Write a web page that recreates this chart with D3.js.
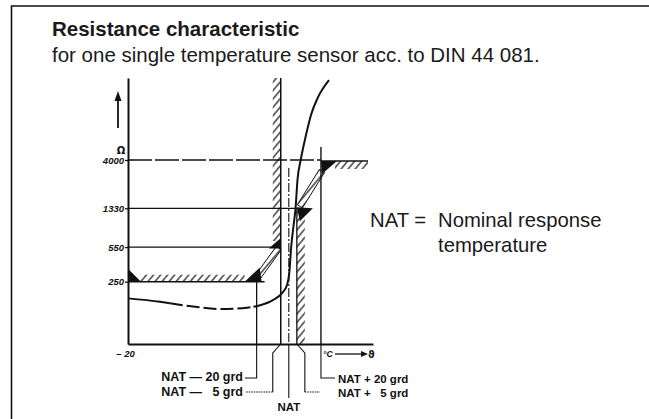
<!DOCTYPE html>
<html><head><meta charset="utf-8">
<script src="https://cdn.jsdelivr.net/npm/d3@7"></script>
<style>body{margin:0;background:#fff}svg{display:block}</style>
</head><body>
<script>
// ---------- data ----------
const titleText = "Resistance characteristic";
const subtitleText = "for one single temperature sensor acc. to DIN 44 081.";
const yTicks = [250, 550, 1330, 4000];
const yTickLabels = ["250", "550", "1330", "4000"];
const yUnit = "Ω";
const xStart = -20;
const xStartLabel = "– 20";
const xUnit = "°C";
const xSymbol = "ϑ";
const NAT = 80; // drawing position of the nominal response temperature (°C, estimated)
const natOffsets = [-20, -5, 0, 5, 20];
const natLabels = ["NAT — 20 grd", "NAT — \u20075 grd", "NAT", "NAT + 20 grd", "NAT + \u20075 grd"];
const limitOhm = [250, 550, 1330, 4000];      // DIN limits
const limitOffset = [-20, -5, 5, 20];         // at NAT + offset
const curveTemp = [-20, 0, 6, 20.5, 37.3, 54.1, 58, 62.2, 70.3, 75.8, 78.9, 80.3, 81.5, 83.0, 84.2, 85.4, 87.4, 90.7, 93.8, 98.2, 105.0];
const curveOhm  = [171, 158, 153, 142, 134, 138, 141, 146, 165, 193, 232, 305, 555, 910, 1330, 2535, 4000, 7060, 11140, 16780, 24720];
const dashedFrom = 6, dashedTo = 58;
const legendKey = "NAT =";
const legendLines = ["Nominal response", "temperature"];

// ---------- drawing ----------
const W = 649, H = 419;
const svg = d3.select("body").append("svg").attr("width", W).attr("height", H)
  .style("background", "#fff");

const defs = svg.append("defs");
const pat = defs.append("pattern").attr("id", "hatch").attr("patternUnits", "userSpaceOnUse")
  .attr("width", 5.4).attr("height", 10).attr("patternTransform", "rotate(40)");
pat.append("line").attr("x1", 2.7).attr("y1", 0).attr("x2", 2.7).attr("y2", 10)
  .attr("stroke", "#111").attr("stroke-width", 1.2);

// frame
svg.append("path").attr("d", "M11.5,419V6H649").attr("fill", "none").attr("stroke", "#111").attr("stroke-width", 1.6);

const font = "'Liberation Sans', Arial, Helvetica, sans-serif";
svg.append("text").attr("x", 52).attr("y", 36).text(titleText)
  .attr("font-family", font).attr("font-weight", "bold").attr("font-size", 20.5).attr("fill", "#1a1a1a");
svg.append("text").attr("x", 52).attr("y", 61.7).text(subtitleText)
  .attr("font-family", font).attr("font-size", 20.5).attr("fill", "#1a1a1a");

// scales
const x = d3.scaleLinear().domain([xStart, NAT]).range([128, 288.8]);
const y = d3.scaleLog().domain([limitOhm[0], limitOhm[3]]).range([281.7, 160]);
const yBottom = 344, yTop = 78, xRight = 373;
const x0 = x(xStart);
const xN = d => x(NAT + d);

// y axis
const yAx = y.copy().domain([y.invert(yBottom), y.invert(yTop)]).range([yBottom, yTop]);
const gy = svg.append("g").attr("transform", `translate(${x0},0)`)
  .call(d3.axisLeft(yAx).tickValues(yTicks).tickSizeInner(3).tickSizeOuter(0).tickPadding(1)
    .tickFormat((d, i) => yTickLabels[i]));
gy.select(".domain").attr("stroke", "#111").attr("stroke-width", 2);
gy.selectAll(".tick line").attr("stroke", "#111").attr("stroke-width", 1.3);
gy.selectAll(".tick text").attr("font-family", font).attr("font-style", "italic")
  .attr("font-weight", "bold").attr("font-size", 9.5).attr("fill", "#111");

// x axis
const xAx = x.copy().domain([xStart, x.invert(xRight)]).range([x0, xRight]);
const gx = svg.append("g").attr("transform", `translate(0,${yBottom})`)
  .call(d3.axisBottom(xAx).tickValues([xStart]).tickSize(0).tickPadding(6).tickFormat(() => xStartLabel));
gx.select(".domain").attr("stroke", "#111").attr("stroke-width", 2);
gx.selectAll(".tick text").attr("font-family", font).attr("font-style", "italic")
  .attr("font-weight", "bold").attr("font-size", 9.5).attr("fill", "#111").attr("dx", -3);

// axis arrows & units
svg.append("line").attr("x1", 118).attr("x2", 118).attr("y1", 128).attr("y2", 98).attr("stroke", "#111").attr("stroke-width", 1.8);
svg.append("path").attr("d", "M114.5,101L121.5,101L118,91Z").attr("fill", "#111");
svg.append("text").attr("x", 121).attr("y", 154).attr("text-anchor", "middle").text(yUnit)
  .attr("font-family", "DejaVu Sans").attr("font-weight", "bold").attr("font-size", 10).attr("fill", "#111");
svg.append("text").attr("x", 323).attr("y", 357).text(xUnit)
  .attr("font-family", font).attr("font-weight", "bold").attr("font-style", "italic").attr("font-size", 8.5).attr("fill", "#111");
svg.append("line").attr("x1", 335).attr("x2", 362).attr("y1", 354).attr("y2", 354).attr("stroke", "#111").attr("stroke-width", 1.3);
svg.append("path").attr("d", "M361,351L368,354L361,357Z").attr("fill", "#111");
svg.append("text").attr("x", 368).attr("y", 358).text(xSymbol)
  .attr("font-family", "DejaVu Sans").attr("font-weight", "bold").attr("font-size", 10).attr("fill", "#111");

const ln = (x1, y1, x2, y2, w, dash) => svg.append("line").attr("x1", x1).attr("y1", y1).attr("x2", x2).attr("y2", y2)
  .attr("stroke", "#111").attr("stroke-width", w || 1.3).attr("stroke-dasharray", dash || null);

// hatched bands
const hrect = (x1, y1, x2, y2) => svg.append("rect").attr("x", x1).attr("y", y1).attr("width", x2 - x1).attr("height", y2 - y1).attr("fill", "url(#hatch)");
hrect(x0 + 12, y(limitOhm[0]) - 7, xN(limitOffset[0]) - 12, y(limitOhm[0]));       // 250 band
hrect(xN(limitOffset[1]) - 8, yTop, xN(limitOffset[1]), y(limitOhm[1]) - 6);       // left vertical band
hrect(xN(limitOffset[2]), y(limitOhm[2]) + 2, xN(limitOffset[2]) + 8, yBottom);     // right vertical band
hrect(xN(limitOffset[3]) + 14, y(limitOhm[3]) + 1, 368, y(limitOhm[3]) + 9);        // 4000 band

// reference lines
ln(x0, y(limitOhm[3]), xN(limitOffset[3]), y(limitOhm[3]), 1.3, "24,3");
ln(xN(limitOffset[3]), y(limitOhm[3]) + 1, 368, y(limitOhm[3]) + 1, 1.5);
ln(x0, y(limitOhm[2]), xN(limitOffset[2]) + 2, y(limitOhm[2]), 1.3);
ln(x0, y(limitOhm[1]), xN(limitOffset[1]), y(limitOhm[1]), 1.3);
ln(x0, y(limitOhm[0]), xN(limitOffset[0]) + 8, y(limitOhm[0]), 1.5);

// vertical NAT lines
ln(xN(-5), yTop, xN(-5), yBottom, 1.5);
ln(xN(5), y(limitOhm[2]) + 1, xN(5), yBottom, 1.3);
ln(xN(0), 168, xN(0), yBottom, 1.1, "9,2,2,2");
ln(xN(20), 147, xN(20), yBottom, 1.4);
ln(xN(-20), y(limitOhm[0]), xN(-20), yBottom, 1.3);

// diagonal hatched strips (switching transitions)
const strip = (ax, ay, bx, by, w) => {
  const dx = bx - ax, dy = by - ay, L = Math.hypot(dx, dy);
  const px = -dy / L * w / 2, py = dx / L * w / 2;
  const pts = [[ax + px, ay + py], [bx + px, by + py], [bx - px, by - py], [ax - px, ay - py]];
  svg.append("path").attr("d", "M" + pts.join("L") + "Z").attr("fill", "url(#hatch)")
    .attr("stroke", "#111").attr("stroke-width", 1);
};
strip(xN(-20) + 0, y(limitOhm[0]) - 3, xN(-5) - 2, y(limitOhm[1]) + 1, 6);
strip(xN(20) + 1, y(limitOhm[3]) + 11, xN(5) + 3, y(limitOhm[2]) - 2, 6);

// black arrow heads
const tri = pts => svg.append("path").attr("d", "M" + pts.join("L") + "Z").attr("fill", "#111");
tri([[x0, y(limitOhm[0]) - 13], [x0, y(limitOhm[0])], [x0 + 13, y(limitOhm[0])]]);
tri([[xN(-20) - 12, y(limitOhm[0])], [xN(-20) + 5, y(limitOhm[0])], [xN(-20) + 3, y(limitOhm[0]) - 14]]);
tri([[xN(-5) - 12, y(limitOhm[1]) + 1.5], [xN(-5), y(limitOhm[1]) - 9], [xN(-5), y(limitOhm[1]) + 1.5]]);
tri([[xN(5), y(limitOhm[2]) - 1], [xN(5) + 16, y(limitOhm[2])], [xN(5) + 3, y(limitOhm[2]) + 13]]);
tri([[xN(20), y(limitOhm[3]) + 1], [xN(20) + 16, y(limitOhm[3]) + 1], [xN(20) + 1, y(limitOhm[3]) + 14]]);

// resistance curve
const pts = curveTemp.map((t, i) => ({t, r: curveOhm[i]}));
const line = d3.line().x(d => x(d.t)).y(d => y(d.r)).curve(d3.curveMonotoneX);
const segs = [
  {data: pts.filter(d => d.t <= dashedFrom), dash: null},
  {data: pts.filter(d => d.t >= dashedFrom && d.t <= dashedTo), dash: "13,4"},
  {data: pts.filter(d => d.t >= dashedTo), dash: null}
];
segs.forEach(s => svg.append("path").attr("d", line(s.data)).attr("fill", "none")
  .attr("stroke", "#111").attr("stroke-width", 2).attr("stroke-dasharray", s.dash));

// leader lines below the axis
const lead = d => svg.append("path").attr("d", d).attr("fill", "none").attr("stroke", "#111").attr("stroke-width", 1.1);
lead(`M${xN(-20)},${yBottom}V378H245`);
lead(`M${xN(-5)},${yBottom}L${xN(-5) - 8},353V392`);
svg.append("path").attr("d", `M${xN(-5) - 8},392H245`).attr("stroke", "#111").attr("stroke-width", 1.1).attr("stroke-dasharray", "1.5,1");
lead(`M${xN(0)},${yBottom}V398`);
lead(`M${xN(5)},${yBottom}L${xN(5) + 8},353V392`);
svg.append("path").attr("d", `M${xN(5) + 8},392H320`).attr("stroke", "#111").attr("stroke-width", 1.1).attr("stroke-dasharray", "1.5,1");
lead(`M${xN(20)},${yBottom}V378H335`);

const small = (txt, xx, yy, anchor, fs) => svg.append("text").attr("x", xx).attr("y", yy).text(txt)
  .attr("text-anchor", anchor).attr("font-family", font).attr("font-weight", "bold")
  .attr("font-size", fs).attr("fill", "#111").style("white-space", "pre");
small(natLabels[0], 243, 381, "end", 12.5);
small(natLabels[1], 243, 395.5, "end", 12.5);
small(natLabels[2], xN(0), 410.5, "middle", 11.5);
small(natLabels[3], 338, 382.5, "start", 11.5);
small(natLabels[4], 338, 397, "start", 11.5);

// legend text
const big = (txt, xx, yy) => svg.append("text").attr("x", xx).attr("y", yy).text(txt)
  .attr("font-family", font).attr("font-size", 20.3).attr("fill", "#1a1a1a");
big(legendKey, 370, 227);
big(legendLines[0], 438, 227);
big(legendLines[1], 438, 252);
</script>
</body></html>
